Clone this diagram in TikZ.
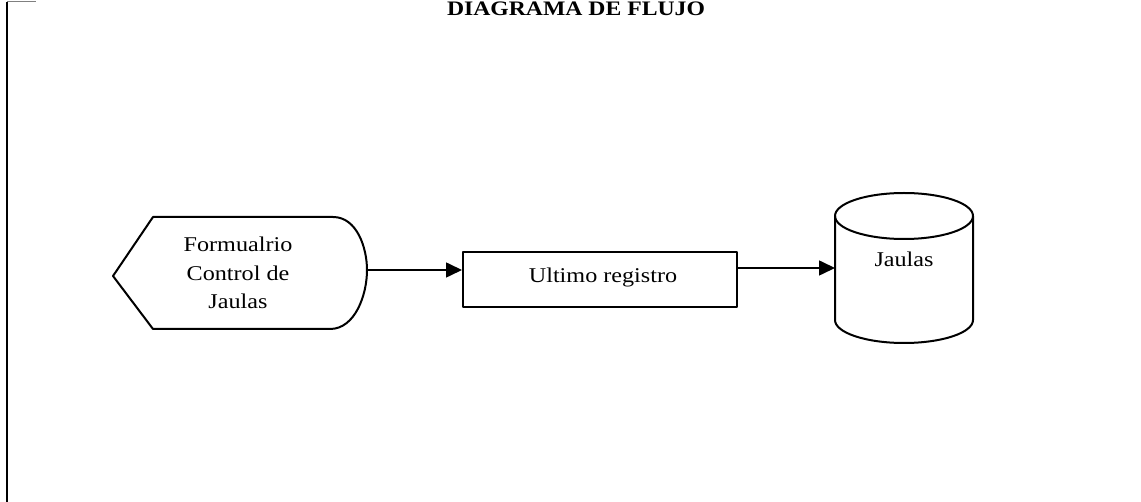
\documentclass[tikz,border=0pt]{standalone}
\usepackage{fontspec}
\setmainfont{Liberation Serif}[FakeStretch=1.15]
\usetikzlibrary{arrows.meta}
\tikzset{
  shapeline/.style={draw=black, line width=2pt, line join=round},
  flowarrow/.style={draw=black, line width=1.6pt, -{Triangle[length=16pt,width=15pt]}},
  lbl/.style={font=\fontsize{21}{28.5}\selectfont, inner sep=0pt, align=center},
}
\begin{document}
\begin{tikzpicture}[x=1pt,y=-1pt]
\useasboundingbox (0,0) rectangle (1141,502);
% page frame fragments
\draw[line width=1.6pt] (7,2) -- (7,502);
\draw[line width=1.2pt, gray] (7,1.5) -- (36,1.5);
% title
\node[lbl, font=\fontsize{20.6}{24}\selectfont\bfseries, anchor=base] (title) at (576,16) {DIAGRAMA DE FLUJO};
% display shape
\draw[shapeline] (113,276) -- (153,217) -- (333,217)
  .. controls (357,217) and (367,248) .. (367,270)
  .. controls (367,295) and (355,329) .. (330,329) -- (153,329) -- cycle;
\coordinate (dispR) at (367,270);
\node[lbl] (disp) at (238,273) {Formualrio\\Control de\\Jaulas};
% process box
\node[shapeline, lbl, minimum width=274pt, minimum height=55pt] (rect) at (600,279.5) {};
\node[lbl, anchor=base] (recttext) at (603,283) {Ultimo registro};
% cylinder
\draw[shapeline] (835,216) -- (835,320) arc[start angle=180, end angle=360, x radius=69pt, y radius=23pt] -- (973,216);
\draw[shapeline] (904,216) ellipse[x radius=69pt, y radius=23pt];
\coordinate (cylL) at (835,268);
\node[lbl, anchor=base] (cyl) at (904,267) {Jaulas};
% connectors
\draw[flowarrow] (dispR) -- (dispR -| rect.west);
\draw[flowarrow] (rect.east |- cylL) -- (cylL);
\end{tikzpicture}
\end{document}
